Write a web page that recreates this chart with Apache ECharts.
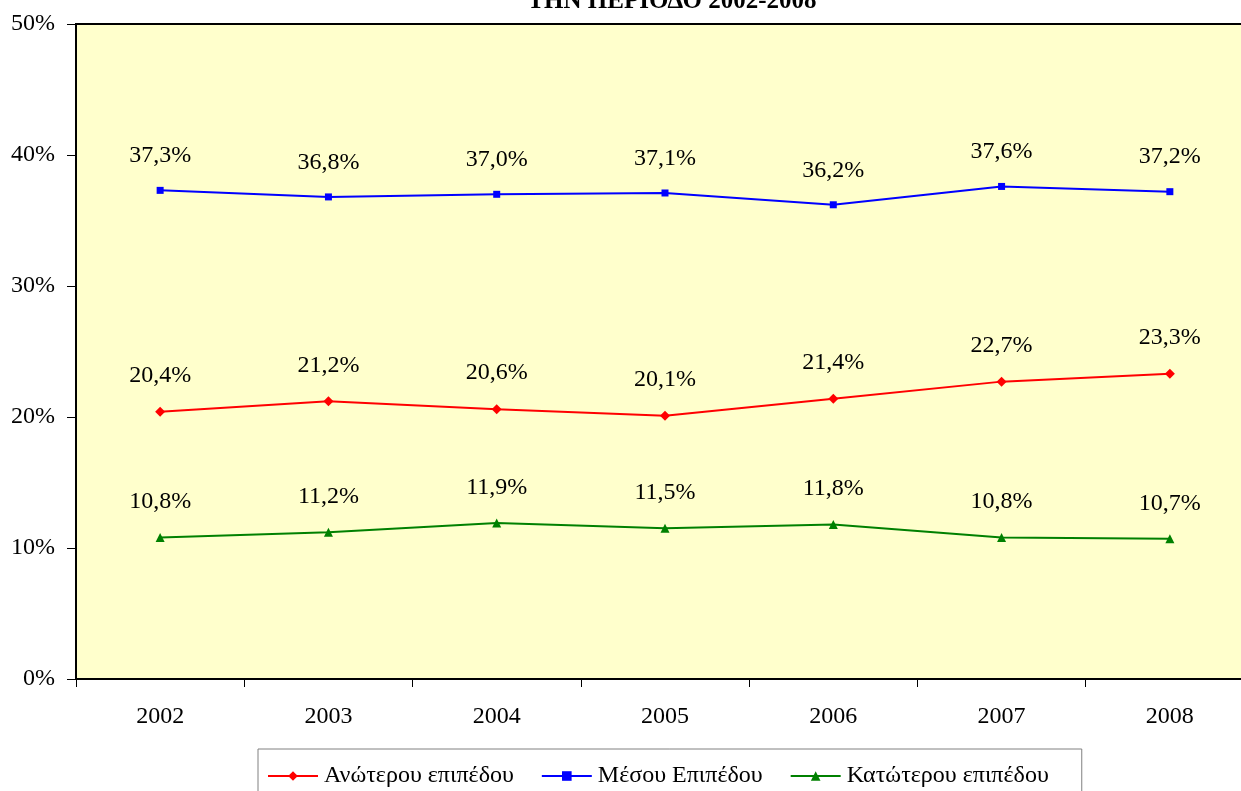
<!DOCTYPE html>
<html>
<head>
<meta charset="utf-8">
<script src="https://cdn.jsdelivr.net/npm/echarts@6/dist/echarts.min.js"></script>
<style>
  html, body { margin: 0; padding: 0; background: #fff; }
  #chart { width: 1241px; height: 791px; }
</style>
</head>
<body>
<div id="chart"></div>
<script>
const years = ['2002', '2003', '2004', '2005', '2006', '2007', '2008'];
const upper = [20.4, 21.2, 20.6, 20.1, 21.4, 22.7, 23.3];   // Ανώτερου επιπέδου
const middle = [37.3, 36.8, 37.0, 37.1, 36.2, 37.6, 37.2];  // Μέσου Επιπέδου
const lower = [10.8, 11.2, 11.9, 11.5, 11.8, 10.8, 10.7];   // Κατώτερου επιπέδου
const seriesNames = ['Ανώτερου επιπέδου', 'Μέσου Επιπέδου', 'Κατώτερου επιπέδου'];

const FONT = '"Liberation Serif", "DejaVu Serif", serif';

const pct = v => v.toFixed(1).replace('.', ',') + '%';

const makeSeries = (name, data, color, symbol, size) => ({
  name: name,
  type: 'line',
  data: data,
  symbol: symbol,
  symbolSize: size,
  lineStyle: { color: color, width: 2 },
  itemStyle: { color: color },
  label: {
    show: true,
    position: 'top',
    distance: 19,
    color: '#000',
    fontFamily: FONT,
    fontSize: 24,
    formatter: p => pct(p.value)
  },
  emphasis: { disabled: true },
  animation: false
});

const chart = echarts.init(document.getElementById('chart'));
chart.setOption({
  textStyle: { fontFamily: FONT },
  title: {
    text: 'ΤΗΝ ΠΕΡΙΟΔΟ 2002-2008',
    left: 667,
    textAlign: 'center',
    top: -16,
    textStyle: { fontFamily: FONT, fontSize: 25, fontWeight: 'bold', color: '#000' }
  },
  grid: {
    left: 76,
    top: 24,
    width: 1178,
    height: 655,
    outerBoundsMode: 'none',
    containLabel: false,
    show: true,
    backgroundColor: '#FFFFCC',
    borderColor: '#000',
    borderWidth: 2
  },
  legend: {
    data: seriesNames,
    left: 258,
    top: 749,
    padding: [15, 33, 10, 9],
    itemGap: 27,
    itemWidth: 50,
    itemHeight: 12,
    borderColor: '#808080',
    borderWidth: 1,
    textStyle: { fontFamily: FONT, fontSize: 24, color: '#000', padding: [0, 0, 0, 1] }
  },
  xAxis: {
    type: 'category',
    data: years,
    boundaryGap: true,
    axisLine: { lineStyle: { color: '#000', width: 2 } },
    axisTick: { show: true, length: 8, lineStyle: { color: '#000', width: 1 } },
    axisLabel: { margin: 26, color: '#000', fontFamily: FONT, fontSize: 24 }
  },
  yAxis: {
    type: 'value',
    min: 0,
    max: 50,
    interval: 10,
    splitLine: { show: false },
    axisLine: { show: true, lineStyle: { color: '#000', width: 2 } },
    axisTick: { show: true, length: 9, lineStyle: { color: '#000', width: 1 } },
    axisLabel: { margin: 21, color: '#000', fontFamily: FONT, fontSize: 24, formatter: '{value}%' }
  },
  series: [
    makeSeries(seriesNames[0], upper, '#FF0000', 'diamond', 10),
    makeSeries(seriesNames[1], middle, '#0000FF', 'rect', 7),
    makeSeries(seriesNames[2], lower, '#008000', 'triangle', 9)
  ]
});
</script>
</body>
</html>
